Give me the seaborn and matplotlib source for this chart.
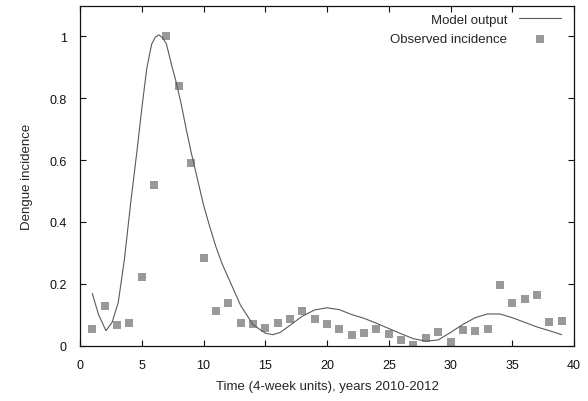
import numpy as np
import pandas as pd
import seaborn as sns
import matplotlib
matplotlib.use('Agg')
import matplotlib.pyplot as plt

# Observed incidence, one value per 4-week unit
obs_time = list(range(1, 40))
obs_incidence = [0.055, 0.129, 0.066, 0.074, 0.221, 0.519, 1.0, 0.840, 0.591, 0.282,
                 0.113, 0.138, 0.074, 0.071, 0.058, 0.074, 0.087, 0.113, 0.087, 0.068,
                 0.052, 0.033, 0.042, 0.052, 0.038, 0.017, 0.001, 0.023, 0.044, 0.010,
                 0.050, 0.046, 0.055, 0.197, 0.136, 0.150, 0.164, 0.077, 0.079]

# Model output
model_time = [1, 1.5, 2.1, 2.6, 3.1, 3.6, 4.1, 4.6, 5.0, 5.4, 5.8, 6.1, 6.4, 6.7, 7.0,
              7.4, 7.8, 8.2, 8.6, 9.0, 9.5, 10.0, 10.5, 11.0, 11.5, 12.0, 13.0, 14.0,
              15.0, 15.6, 16.2, 17.0, 18.0, 19.0, 20.0, 21.0, 22.0, 23.0, 24.0, 25.0,
              26.0, 27.0, 28.0, 29.0, 30.0, 31.0, 32.0, 33.0, 34.0, 35.0, 36.0, 37.0,
              38.0, 39.0]
model_output = [0.168, 0.10, 0.048, 0.075, 0.14, 0.28, 0.46, 0.625, 0.765, 0.895, 0.975,
                0.998, 1.005, 0.995, 0.975, 0.91, 0.85, 0.78, 0.70, 0.625, 0.54, 0.455,
                0.385, 0.32, 0.265, 0.22, 0.13, 0.068, 0.04, 0.035, 0.042, 0.065, 0.095,
                0.115, 0.122, 0.116, 0.10, 0.088, 0.072, 0.055, 0.038, 0.022, 0.014,
                0.018, 0.042, 0.068, 0.09, 0.102, 0.102, 0.09, 0.075, 0.06, 0.048, 0.035]

x_ticks = [0, 5, 10, 15, 20, 25, 30, 35, 40]
y_ticks = [0, 0.2, 0.4, 0.6, 0.8, 1.0]
y_labels = ['0', '0.2', '0.4', '0.6', '0.8', '1']

obs = pd.DataFrame({'time': obs_time, 'incidence': obs_incidence})
model = pd.DataFrame({'time': model_time, 'output': model_output})

sns.set_theme(style='ticks')
plt.rcParams['font.family'] = ['Liberation Sans', 'DejaVu Sans']
plt.rcParams['xtick.direction'] = 'in'
plt.rcParams['ytick.direction'] = 'in'

fig = plt.figure(figsize=(5.88, 4.02), dpi=100)
ax = fig.add_axes([80 / 588, 1 - 346.5 / 402, 494 / 588, 340 / 402])

sns.lineplot(data=model, x='time', y='output', ax=ax, color='#5a5a5a', linewidth=0.8,
             label='Model output')
sns.scatterplot(data=obs, x='time', y='incidence', ax=ax, color='#999999', marker='s',
                s=40, linewidth=0, label='Observed incidence')

ax.set_xlim(0, 40)
ax.set_ylim(0, 1.1)
ax.set_xticks(x_ticks)
ax.set_yticks(y_ticks)
ax.set_yticklabels(y_labels)
ax.tick_params(axis='both', which='major', direction='in', length=4, width=0.8,
               top=True, right=True, labelsize=9, colors='#111111')
ax.tick_params(axis='x', pad=9.5)
ax.tick_params(axis='y', pad=9.5)
for side in ax.spines.values():
    side.set_linewidth(0.9)
    side.set_color('#111111')

ax.set_xlabel('Time (4-week units), years 2010-2012', fontsize=9.5, labelpad=7)
ax.set_ylabel('Dengue incidence', fontsize=9.5, labelpad=12)

leg = ax.legend(loc='upper right', frameon=False, markerfirst=False, fontsize=9.5,
                handlelength=3.2, handletextpad=0.9, borderaxespad=0.2,
                labelspacing=0.55, bbox_to_anchor=(0.99, 1.0))
# right-align legend rows like gnuplot does
leg._legend_box._children[-1]._children[0].align = 'right'

fig.savefig('out.png', dpi=100)
